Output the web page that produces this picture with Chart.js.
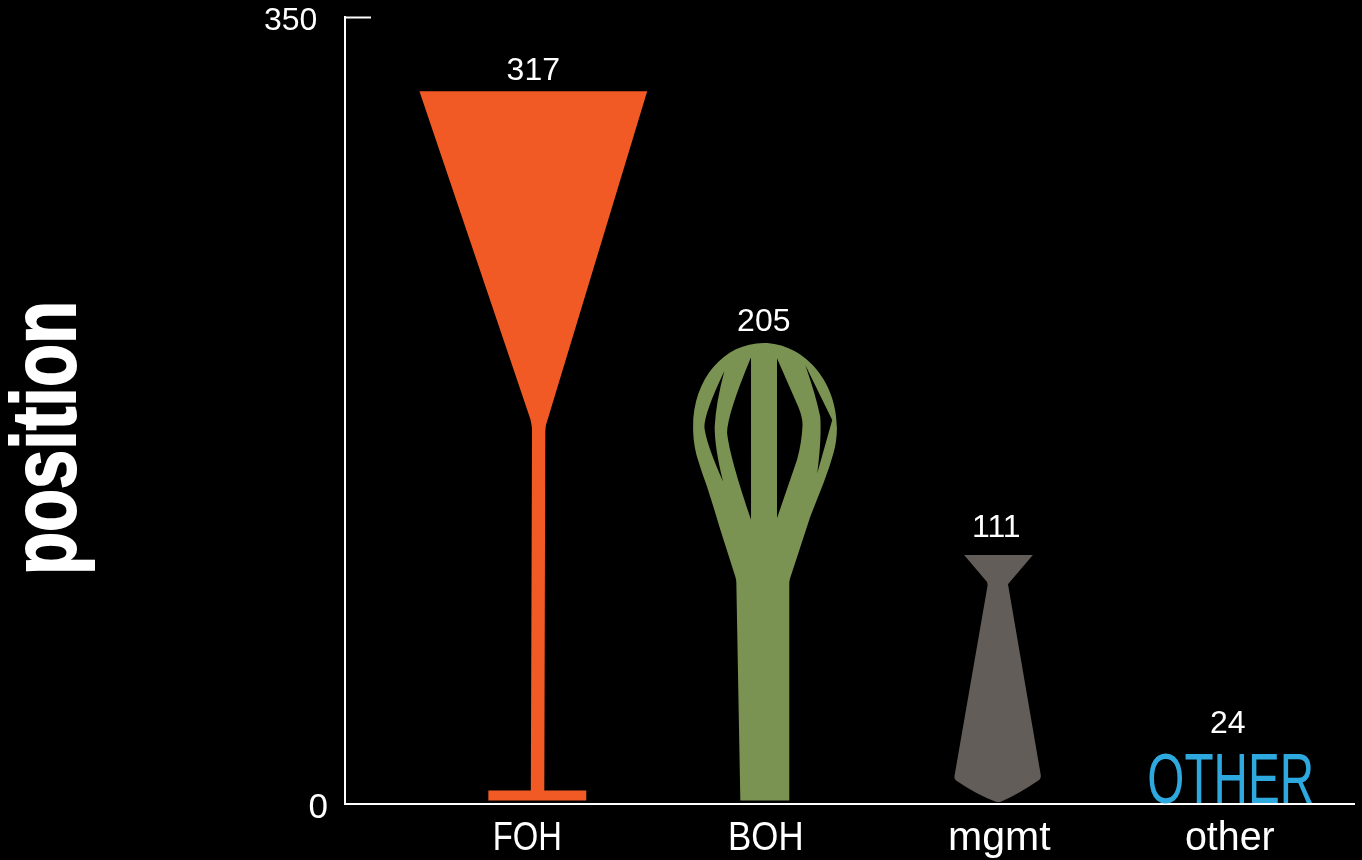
<!DOCTYPE html>
<html lang="en">
<head>
  <meta charset="UTF-8">
  <title>Positions</title>
  <script src="https://cdn.jsdelivr.net/npm/chart.js"></script>
  <style>
    html, body { margin: 0; background: #000; }
    canvas { display: block; }
  </style>
</head>
<body>
  <canvas id="positionChart" width="1362" height="860"></canvas>

  <script>
    const categories = ['FOH', 'BOH', 'mgmt', 'other'];
    const positions = [317, 205, 111, 24];
    const barColors = ['#F15A24', '#7A9352', '#625D59', '#2DA9E0'];
    const yTicks = [0, 350];

    const REGULAR = '"Liberation Sans", sans-serif';

    // glyph outlines: x is measured from the bar centre, y from the bar top,
    // h is the outline's full height, so each one scales with its value
    const glyphs = {
      FOH: {
        h: 713,
        gap: 11,
        path: 'M-114 0 L114 0 L14.5 328 Q12 334 12 340 L11 700 L53 700 L53 710 L-45 710 L-45 700 L-2.5 700 ' +
              'L-1.3 338 Q-1.5 334 -3 328 Z'
      },
      BOH: {
        h: 461,
        gap: 12,
        labelShift: -2,
        // whisk body, with the gaps between the wires cut out by the even-odd fill
        path: 'M-2 0 C-42 0 -72.8 36 -72.8 84 C-72.8 96 -71 106 -68.8 114 Q-64 130 -58.8 144 Q-52 165 -45.5 187 L-30.5 234 Q-29.5 237 -29.5 240 ' +
              'L-25.5 458 L23.5 458 L23.5 240 Q23.5 238 24.5 235 L44.5 174 Q51 157 57.8 140 Q64 124 67.8 110 Q71.2 98 71.2 85 C71.2 36 36 0 -2 0 Z ' +
              'M-14.8 14.3 Q-38.8 72 -38.8 90 Q-36 115 -14.8 177 Z ' +
              'M11.2 15.3 L32.5 63.7 Q36.8 74 36.8 82 Q36 100 31.2 117 L11.2 175.3 Z ' +
              'M-41.5 28 Q-61.5 70 -61.5 84 Q-60 100 -42.8 138.7 Q-51.2 105 -51.2 84 Q-50 60 -41.5 28 Z ' +
              'M39.5 22 L66.5 77 L51.5 130.3 Q56 95 54.5 73.7 Q50 52 39.5 22 Z'
      },
      mgmt: {
        h: 250,
        gap: 17,
        labelShift: -2,
        path: 'M-34.3 0.7 L34.7 0.7 L9.7 30 L10.3 33.3 L42.7 222 Q43 225 41 226.5 Q18 242 3 248 Q0 249 -3 248 ' +
              'Q-22 241 -42.7 226.7 Q-44.5 225 -44 222.7 L-10.7 31 L-11.3 27.7 Z'
      }
    };

    // the last bar is the word itself, sized from the bar height
    const wordBars = { other: { text: 'OTHER', gap: 17, labelShift: -3 } };

    const labelNudge = [-6, 0, 1, -1];
    const labelSqueeze = [0.8, 0.85, 1, 0.96];

    // no condensed face is available, so narrow text is squeezed with fillText's maxWidth
    function fillNarrow(ctx, text, x, y, squeeze) {
      ctx.fillText(text, x, y, ctx.measureText(text).width * squeeze);
    }

    const pictogramBars = {
      id: 'pictogramBars',
      beforeDatasetDraw(chart, args) {
        const ctx = chart.ctx;
        args.meta.data.forEach((bar, i) => {
          const name = categories[i];
          const barHeight = bar.base - bar.y;
          const glyph = glyphs[name];
          const word = wordBars[name];

          ctx.save();
          ctx.fillStyle = barColors[i];
          if (glyph) {
            const k = barHeight / glyph.h;
            ctx.translate(bar.x, bar.y);
            ctx.scale(k, k);
            ctx.fill(new Path2D(glyph.path), 'evenodd');
          } else {
            ctx.font = (barHeight * 1.3) + 'px ' + REGULAR;
            ctx.textAlign = 'center';
            ctx.textBaseline = 'alphabetic';
            ctx.fillText(word.text, bar.x, bar.base - 1, barHeight * 3.12);
          }
          ctx.restore();

          const spec = glyph || word;
          ctx.save();
          ctx.fillStyle = '#fff';
          ctx.font = '32px ' + REGULAR;
          ctx.textAlign = 'center';
          ctx.textBaseline = 'alphabetic';
          ctx.fillText(String(positions[i]), bar.x + (spec.labelShift || 0), bar.y - spec.gap);
          ctx.restore();
        });
        return false;
      }
    };

    const narrowText = {
      id: 'narrowText',
      afterDraw(chart) {
        const ctx = chart.ctx;
        const xScale = chart.scales.x;
        ctx.save();
        ctx.fillStyle = '#fff';
        ctx.strokeStyle = '#fff';
        ctx.textAlign = 'center';
        ctx.textBaseline = 'alphabetic';

        ctx.font = '41px ' + REGULAR;
        xScale.ticks.forEach((tick, i) => {
          fillNarrow(ctx, tick.label, xScale.getPixelForTick(i), chart.chartArea.bottom + 46, labelSqueeze[i]);
        });

        // axis title, thickened a little because the squeeze thins its stems
        ctx.translate(75, 438);
        ctx.rotate(-Math.PI / 2);
        ctx.font = 'bold 91px ' + REGULAR;
        ctx.lineWidth = 2;
        ctx.fillText('position', 0, 0, 274);
        ctx.strokeText('position', 0, 0, 274);
        ctx.restore();
      }
    };

    new Chart(document.getElementById('positionChart'), {
      type: 'bar',
      data: {
        datasets: [{
          data: categories.map((c, i) => ({ x: i, y: positions[i] })),
          backgroundColor: barColors
        }]
      },
      plugins: [pictogramBars, narrowText],
      options: {
        responsive: false,
        animation: false,
        layout: { padding: { top: 17, right: 8 } },
        plugins: {
          legend: { display: false },
          tooltip: { enabled: false }
        },
        scales: {
          x: {
            type: 'linear',
            offset: false,
            min: -0.81,
            max: 3.53,
            afterBuildTicks(scale) {
              const spacing = scale.width / (scale.max - scale.min);
              scale.ticks = categories.map((c, i) => ({ value: i + labelNudge[i] / spacing }));
            },
            afterFit(scale) {
              scale.height = 56;
              scale.paddingLeft = 0;
              scale.paddingRight = 0;
            },
            border: { color: '#fff', width: 2 },
            grid: { drawTicks: false, drawOnChartArea: false },
            ticks: {
              display: false,
              autoSkip: false,
              maxRotation: 0,
              callback: v => categories[Math.round(v)]
            }
          },
          y: {
            min: 0,
            max: 350,
            afterBuildTicks(scale) {
              scale.ticks = yTicks.map(v => ({ value: v }));
            },
            afterFit(scale) {
              scale.width = 345;
              scale.paddingTop = 0;
              scale.paddingBottom = 0;
            },
            border: { color: '#fff', width: 2 },
            grid: {
              drawOnChartArea: false,
              tickLength: -26,
              tickWidth: 2,
              tickColor: ctx => (ctx.tick && ctx.tick.value === 0 ? 'transparent' : '#fff')
            },
            ticks: {
              color: '#fff',
              padding: 43,
              labelOffset: 4,
              font: ctx => ({ family: REGULAR, size: ctx.tick && ctx.tick.value === 0 ? 35 : 32 }),
              callback: v => (v === 0 ? '0' : v + '\u2004')
            }
          }
        }
      }
    });
  </script>
</body>
</html>
